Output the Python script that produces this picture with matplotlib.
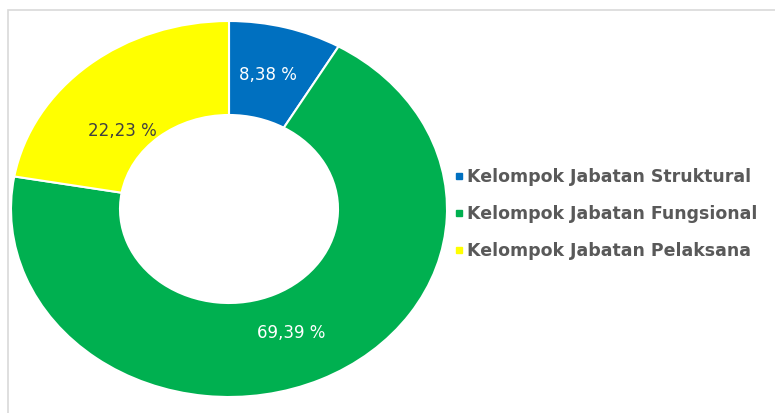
import matplotlib.pyplot as plt
from matplotlib.patches import Rectangle

labels = ["Kelompok Jabatan Struktural", "Kelompok Jabatan Fungsional", "Kelompok Jabatan Pelaksana"]
values = [8.38, 69.39, 22.23]
pct_text = ["8,38 %", "69,39 %", "22,23 %"]
colors = ["#0070C0", "#00B050", "#FFFF00"]
text_colors = ["white", "white", "#404040"]

W, H = 775, 414
fig = plt.figure(figsize=(W / 100, H / 100), dpi=100)

# light frame around chart area
fig.patches.append(Rectangle((8 / W, -0.1), 1, (H - 11) / H + 0.1, transform=fig.transFigure,
                             fill=False, edgecolor="#d9d9d9", linewidth=1.2))

# pie axes (slightly wider than tall, like the stretched original)
cx, cy, rx, ry = 229, 210, 218, 188
ax = fig.add_axes([(cx - rx) / W, (H - cy - ry) / H, 2 * rx / W, 2 * ry / H])
wedges, _ = ax.pie(values, colors=colors, startangle=90, counterclock=False,
                   radius=1, wedgeprops=dict(width=0.5, edgecolor="white", linewidth=1.5))
ax.set_aspect("auto")
ax.set_xlim(-1, 1)
ax.set_ylim(-1, 1)
ax.axis("off")

# percentage labels
label_pos = [(268, 75), (291, 333), (122, 131)]
for (px, py), t, c in zip(label_pos, pct_text, text_colors):
    fig.text(px / W, 1 - py / H, t, color=c, fontsize=12, ha="center", va="center",
             family="DejaVu Sans")

# legend
for i, (lab, col) in enumerate(zip(labels, colors)):
    y = 177 + i * 37
    fig.patches.append(Rectangle((456 / W, 1 - (y + 3) / H), 6 / W, 6 / H,
                                 transform=fig.transFigure, color=col))
    fig.text(467 / W, 1 - y / H, lab, color="#595959", fontsize=12.5, fontweight="bold",
             ha="left", va="center", family="DejaVu Sans")

fig.savefig("out.png", dpi=100)
